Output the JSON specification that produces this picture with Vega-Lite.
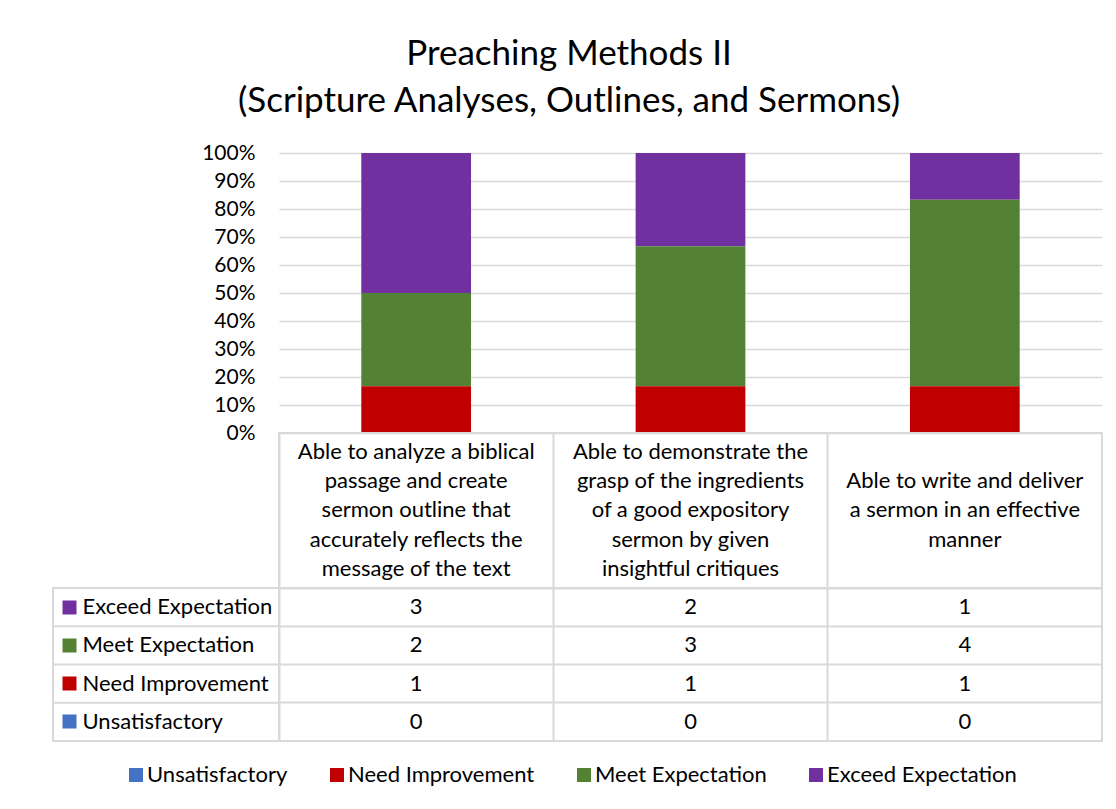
{
  "$schema": "https://vega.github.io/schema/vega-lite/v6.json",
  "background": "white",
  "padding": {"left": 51, "top": 37, "right": 10, "bottom": 10},
  "title": {
    "text": ["Preaching Methods II", "(Scripture Analyses, Outlines, and Sermons)"],
    "fontSize": 35, "fontWeight": "normal", "color": "#000000",
    "anchor": "middle", "lineHeight": 47, "offset": 23, "dx": -8
  },
  "datasets": {
    "items": [
      {"item": "Able to analyze a biblical\npassage and create\nsermon outline that\naccurately reflects the\nmessage of the text"},
      {"item": "Able to demonstrate the\ngrasp of the ingredients\nof a good expository\nsermon by given\ninsightful critiques"},
      {"item": "\nAble to write and deliver\na sermon in an effective\nmanner\n"}
    ],
    "levels": [
      {"series": "Exceed Expectation"},
      {"series": "Meet Expectation"},
      {"series": "Need Improvement"},
      {"series": "Unsatisfactory"}
    ],
    "counts": [
      {"item": "Able to analyze a biblical\npassage and create\nsermon outline that\naccurately reflects the\nmessage of the text", "series": "Exceed Expectation", "count": 3},
      {"item": "Able to analyze a biblical\npassage and create\nsermon outline that\naccurately reflects the\nmessage of the text", "series": "Meet Expectation", "count": 2},
      {"item": "Able to analyze a biblical\npassage and create\nsermon outline that\naccurately reflects the\nmessage of the text", "series": "Need Improvement", "count": 1},
      {"item": "Able to analyze a biblical\npassage and create\nsermon outline that\naccurately reflects the\nmessage of the text", "series": "Unsatisfactory", "count": 0},
      {"item": "Able to demonstrate the\ngrasp of the ingredients\nof a good expository\nsermon by given\ninsightful critiques", "series": "Exceed Expectation", "count": 2},
      {"item": "Able to demonstrate the\ngrasp of the ingredients\nof a good expository\nsermon by given\ninsightful critiques", "series": "Meet Expectation", "count": 3},
      {"item": "Able to demonstrate the\ngrasp of the ingredients\nof a good expository\nsermon by given\ninsightful critiques", "series": "Need Improvement", "count": 1},
      {"item": "Able to demonstrate the\ngrasp of the ingredients\nof a good expository\nsermon by given\ninsightful critiques", "series": "Unsatisfactory", "count": 0},
      {"item": "\nAble to write and deliver\na sermon in an effective\nmanner\n", "series": "Exceed Expectation", "count": 1},
      {"item": "\nAble to write and deliver\na sermon in an effective\nmanner\n", "series": "Meet Expectation", "count": 4},
      {"item": "\nAble to write and deliver\na sermon in an effective\nmanner\n", "series": "Need Improvement", "count": 1},
      {"item": "\nAble to write and deliver\na sermon in an effective\nmanner\n", "series": "Unsatisfactory", "count": 0}
    ]
  },
  "columns": 2,
  "spacing": 0,
  "bounds": "flush",
  "concat": [
    {
      "width": 226, "height": 280,
      "data": {"values": []},
      "mark": "point",
      "encoding": {}
    },
    {
      "width": 823, "height": 280,
      "data": {"name": "counts"},
      "mark": {"type": "bar"},
      "encoding": {
        "x": {"field": "item", "type": "nominal", "sort": null,
              "scale": {"paddingInner": 0.6, "paddingOuter": 0.3}, "axis": null},
        "y": {"field": "count", "type": "quantitative", "stack": "normalize",
              "scale": {"domain": [0, 1]},
              "axis": {"values": [0, 0.1, 0.2, 0.3, 0.4, 0.5, 0.6, 0.7, 0.8, 0.9, 1],
                       "format": ".0%", "title": null, "domain": false, "ticks": false,
                       "labelPadding": 24, "labelFontSize": 21, "labelColor": "#000000",
                       "grid": true, "gridColor": "#D9D9D9", "gridWidth": 1.3}},
        "color": {"field": "series", "type": "nominal",
                  "sort": ["Unsatisfactory", "Need Improvement", "Meet Expectation", "Exceed Expectation"],
                  "scale": {"domain": ["Unsatisfactory", "Need Improvement", "Meet Expectation", "Exceed Expectation"],
                            "range": ["#4472C4", "#C00000", "#548235", "#7030A0"]},
                  "legend": {"orient": "none", "legendX": 72, "legendY": 611, "direction": "horizontal",
                             "title": null, "symbolType": "square", "symbolSize": 196, "symbolStrokeWidth": 0,
                             "labelFontSize": 22, "labelOffset": 0, "columnPadding": 38, "labelLimit": 400,
                             "labelColor": "#000000", "padding": 0}}
      }
    },
    {
      "width": 226, "height": 155,
      "data": {"values": []},
      "mark": "point",
      "encoding": {}
    },
    {
      "width": 823, "height": 155,
      "data": {"name": "items"},
      "view": {"stroke": "#D9D9D9", "strokeWidth": 2},
      "mark": {"type": "text", "lineBreak": "\n", "fontSize": 22, "lineHeight": 29.3, "dy": -58.6, "color": "#000000"},
      "encoding": {
        "x": {"field": "item", "type": "nominal", "sort": null, "scale": {"type": "band", "padding": 0},
              "axis": {"labels": false, "ticks": false, "domain": false, "title": null,
                       "grid": true, "bandPosition": 0, "gridColor": "#D9D9D9", "gridWidth": 2}},
        "text": {"field": "item"}
      }
    },
    {
      "width": 226, "height": 153,
      "data": {"name": "levels"},
      "view": {"stroke": "#D9D9D9", "strokeWidth": 2},
      "mark": {"type": "rule", "color": "#D9D9D9", "strokeWidth": 2},
      "encoding": {
        "y": {"field": "series", "type": "nominal", "bandPosition": 0,
              "sort": ["Exceed Expectation", "Meet Expectation", "Need Improvement", "Unsatisfactory"],
              "scale": {"padding": 0},
              "axis": {"title": null, "domain": false, "grid": false,
                       "ticks": true, "tickSize": -14, "tickWidth": 14, "tickCap": "butt", "offset": -9,
                       "tickColor": {"condition": [
                         {"test": "datum.value === 'Exceed Expectation'", "value": "#7030A0"},
                         {"test": "datum.value === 'Meet Expectation'", "value": "#548235"},
                         {"test": "datum.value === 'Need Improvement'", "value": "#C00000"}
                       ], "value": "#4472C4"},
                       "labelAlign": "left", "labelPadding": -6, "labelFontSize": 22,
                       "labelColor": "#000000", "labelLimit": 400}}
      }
    },
    {
      "width": 823, "height": 153,
      "data": {"name": "counts"},
      "view": {"stroke": "#D9D9D9", "strokeWidth": 2},
      "mark": {"type": "text", "fontSize": 22, "color": "#000000"},
      "encoding": {
        "x": {"field": "item", "type": "nominal", "sort": null, "scale": {"type": "band", "padding": 0},
              "axis": {"labels": false, "ticks": false, "domain": false, "title": null,
                       "grid": true, "bandPosition": 0, "gridColor": "#D9D9D9", "gridWidth": 2}},
        "y": {"field": "series", "type": "nominal",
              "sort": ["Exceed Expectation", "Meet Expectation", "Need Improvement", "Unsatisfactory"],
              "scale": {"type": "band", "padding": 0},
              "axis": {"labels": false, "ticks": false, "domain": false, "title": null,
                       "grid": true, "bandPosition": 0, "gridColor": "#D9D9D9", "gridWidth": 2}},
        "text": {"field": "count", "type": "quantitative"}
      }
    }
  ],
  "config": {
    "font": "Lato",
    "view": {"stroke": null}
  }
}
